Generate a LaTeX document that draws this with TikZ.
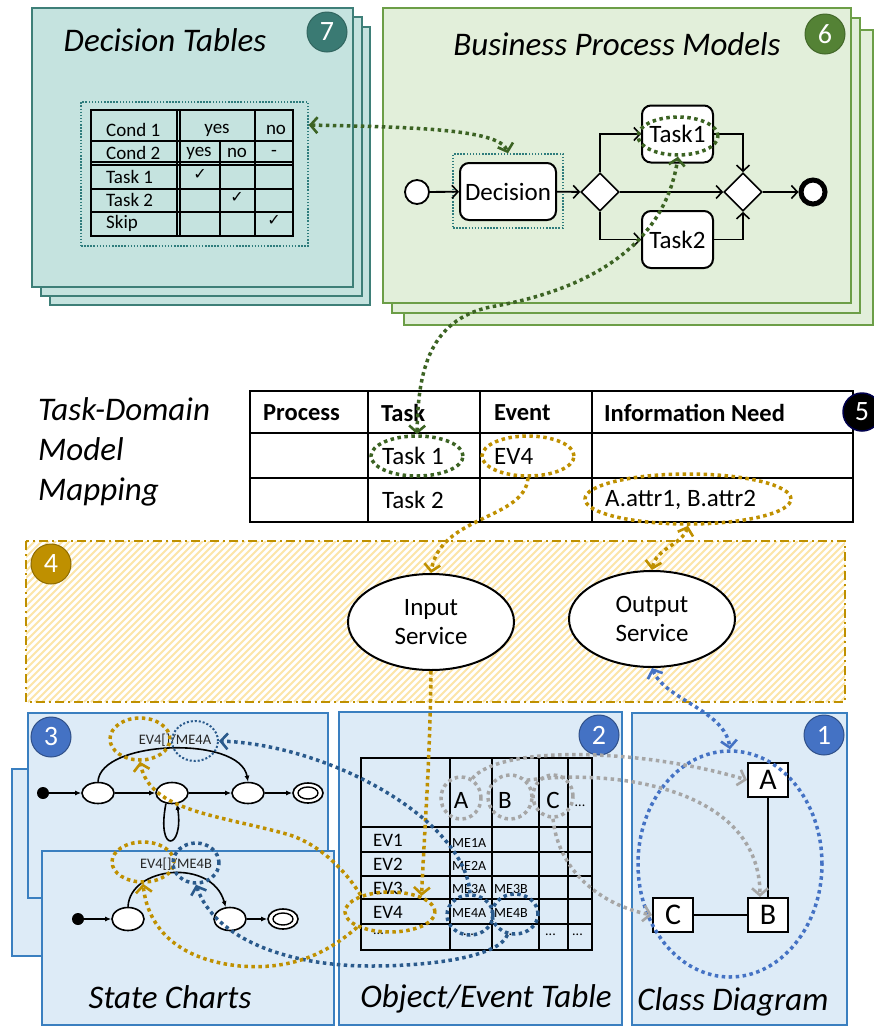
\documentclass[tikz,border=0pt]{standalone}
\usepackage{fontspec}
\setmainfont{Carlito}
\newfontfamily\symfont{DejaVu Sans}
\usetikzlibrary{shapes.geometric,arrows.meta}
\newcommand{\fsz}[1]{\fontsize{#1}{#1}\selectfont}

\definecolor{tealF}{HTML}{C5E3DF}
\definecolor{tealS}{HTML}{3E7F78}
\definecolor{tealB}{HTML}{3A7A73}
\definecolor{tealD}{HTML}{2E7C7C}
\definecolor{greenF}{HTML}{E2EFDA}
\definecolor{greenS}{HTML}{6C9E47}
\definecolor{greenB}{HTML}{548235}
\definecolor{greenL}{HTML}{3C6323}
\definecolor{goldC}{HTML}{BF9000}
\definecolor{hatchC}{HTML}{FCE5A8}
\definecolor{blueF}{HTML}{DDEBF7}
\definecolor{blueS}{HTML}{3A7FC0}
\definecolor{blueB}{HTML}{4472C4}
\definecolor{blueL}{HTML}{4472C4}
\definecolor{navyL}{HTML}{2A5A8C}
\definecolor{grayL}{HTML}{A6A6A6}

\begin{document}
\begin{tikzpicture}[x=1pt,y=-1pt,
  lay7/.style={draw=tealS, fill=tealF, line width=2pt},
  lay6/.style={draw=greenS, fill=greenF, line width=2pt},
  lay3/.style={draw=blueS, fill=blueF, line width=1.6pt},
  badge/.style={circle, minimum size=40pt, inner sep=0pt, text=white, font=\fsz{28}, line width=1pt},
  ttl/.style={font=\fsz{33}\itshape, inner sep=0pt},
  dtx/.style={font=\fsz{19}, inner sep=0pt},
  tbh/.style={font=\fsz{24.5}\bfseries, inner sep=0pt, anchor=west},
  tbx/.style={font=\fsz{25}, inner sep=0pt, anchor=west},
  oex/.style={font=\fsz{19}, inner sep=0pt},
  mex/.style={font=\fsz{14}, inner sep=0pt, anchor=west},
  grid/.style={line width=2pt, line cap=rect},
  bp/.style={line width=1.8pt, -{Straight Barb[length=6pt,width=13pt,line width=1.6pt]}},
  task/.style={draw, fill=white, rounded corners=9pt, line width=2pt, font=\fsz{25}, inner sep=0pt},
  gw/.style={diamond, draw, fill=white, line width=1.6pt, minimum size=38pt, inner sep=0pt},
  lnk/.style={line width=3.5pt, dash pattern=on 3.5pt off 3.5pt,
    >={Straight Barb[length=7pt,width=16pt,line width=2.6pt]}},
  dote/.style={ellipse, draw, inner sep=0pt, line width=3.5pt, dash pattern=on 3.5pt off 3.5pt},
  thindot/.style={draw=tealD, line width=1.5pt, dash pattern=on 1.5pt off 1.6pt},
  st/.style={ellipse, draw, fill=white, line width=1.6pt, minimum width=32pt, minimum height=21pt, inner sep=0pt},
  sa/.style={line width=1.6pt, -{Latex[length=6pt,width=5pt]}},
  cls/.style={draw, fill=white, line width=2pt, minimum width=40pt, minimum height=34pt, inner sep=0pt, font=\fsz{30}},
  lbl/.style={font=\fsz{14.5}, inner sep=0pt, text=black!85}
]
\useasboundingbox (0,0) rectangle (874,1026);

% ---------- 7: decision tables ----------
\draw[lay7] (50,27) rectangle (370,305);
\draw[lay7] (41,17) rectangle (362,296);
\draw[lay7] (32,8) rectangle (353,287);
\node[ttl] (dtT) at (165,40) {Decision Tables};
\node[badge, fill=tealB, draw=tealS!80!black] (b7) at (327,32) {7};
\node[thindot, minimum width=227pt, minimum height=144pt, inner sep=0pt] (dtbox) at (194.5,174) {};
\draw[grid] (91,110) rectangle (293,236);
\draw[grid] (177,110) -- (177,236) (180,110) -- (180,236) (220,141) -- (220,236) (255,110) -- (255,236);
\draw[grid] (91,141) -- (293,141) (91,162) -- (293,162) (91,165) -- (293,165)
  (91,189) -- (293,189) (91,212) -- (293,212);
\node[dtx, anchor=west] (c1) at (106,130) {Cond 1};
\node[dtx, anchor=west] (c2) at (106,153) {Cond 2};
\node[dtx, anchor=west] (c3) at (106,177) {Task 1};
\node[dtx, anchor=west] (c4) at (106,200) {Task 2};
\node[dtx, anchor=west] (c5) at (106,223) {Skip};
\node[dtx] (y1) at (217,130) {yes};
\node[dtx] (n1) at (276,130) {no};
\node[dtx] (y2) at (199,153) {yes};
\node[dtx] (n2) at (237,153) {no};
\node[dtx] (d2) at (274,153) {-};
\node[font=\symfont\fsz{16}, inner sep=0pt] (k1) at (200,174) {✓};
\node[font=\symfont\fsz{16}, inner sep=0pt] (k2) at (237,197) {✓};
\node[font=\symfont\fsz{16}, inner sep=0pt] (k3) at (274,220) {✓};

% ---------- 6: business process models ----------
\draw[lay6] (404,30) rectangle (873,325);
\draw[lay6] (392,18) rectangle (860,313);
\draw[lay6] (383,8) rectangle (851,303);
\node[ttl] (bpT) at (617,44) {Business Process Models};
\node[badge, fill=greenB, draw=greenB!80!black] (b6) at (825,34) {6};
\node[thindot, minimum width=110pt, minimum height=74pt, inner sep=0pt] (decbox) at (508,191) {};
\node[circle, draw, fill=white, line width=1.8pt, minimum size=24pt, inner sep=0pt] (bst) at (417,192) {};
\node[task, minimum width=96pt, minimum height=57pt] (dec) at (508,191.5) {Decision};
\node[gw] (g1) at (600,192) {};
\node[task, minimum width=71pt, minimum height=57pt] (tk1) at (677.5,134) {Task1};
\node[task, minimum width=71pt, minimum height=57pt] (tk2) at (677.5,239.5) {Task2};
\node[gw] (g2) at (743,192) {};
\node[circle, draw, fill=white, line width=5pt, minimum size=24pt, inner sep=0pt] (bend) at (813,192) {};
\draw[bp] (bst) -- (dec);
\draw[bp] (dec) -- (g1);
\draw[bp] (g1.north) |- (tk1.west);
\draw[bp] (g1.south) |- (tk2.west);
\draw[bp] (g1.east) -- (g2.west);
\draw[bp] (tk1.east) -| (g2.north);
\draw[bp] (tk2.east) -| (g2.south);
\draw[bp] (g2.east) -- (bend);
\node[dote, draw=greenL, minimum width=80pt, minimum height=38pt] (t1bpe) at (678,136) {};

% ---------- 5: task-domain model mapping ----------
\node[ttl, anchor=base west] (m1) at (38,420) {Task-Domain};
\node[ttl, anchor=base west] (m2) at (38,460) {Model};
\node[ttl, anchor=base west] (m3) at (38,500) {Mapping};
\draw[grid] (250,391) rectangle (853,522);
\draw[grid] (250,433) -- (853,433) (250,478) -- (853,478)
  (368,391) -- (368,522) (480,391) -- (480,522) (592,391) -- (592,522);
\node[tbh] (h1) at (263,413) {Process};
\node[tbh] (h2) at (381,413) {Task};
\node[tbh] (h3) at (494,413) {Event};
\node[tbh] (h4) at (604,413) {Information Need};
\node[tbx] (r1) at (382,456) {Task 1};
\node[tbx] (r2) at (494,456) {EV4};
\node[tbx] (r3) at (382,500) {Task 2};
\node[tbx] (r4) at (605,500) {A.attr1, B.attr2};
\node[badge, fill=black, draw=blue!30!black, line width=1.5pt, minimum size=38pt] (b5) at (862,412) {5};
\node[dote, draw=greenL, minimum width=92pt, minimum height=40pt] (t1e) at (417,456) {};
\node[dote, draw=goldC, minimum width=92pt, minimum height=40pt] (ev4e) at (528,456) {};
\node[dote, draw=goldC, minimum width=206pt, minimum height=50pt] (attre) at (688,499) {};

% ---------- 4: services ----------
\fill[white] (26,541) rectangle (845,702);
\begin{scope}
  \clip (26,541) rectangle (845,702);
  \foreach \i in {0,...,143} \draw[hatchC, line width=1.8pt] ({-140+\i*7},702) -- ++(161,-161);
\end{scope}
\draw[goldC, line width=2pt, dash pattern=on 9pt off 4pt on 2pt off 4pt] (26,541) rectangle (845,702);
\node[badge, fill=goldC, draw=goldC!75!black] (b4) at (51,564) {4};
\node[ellipse, draw, fill=white, line width=2pt, minimum width=166pt, minimum height=96pt, inner sep=0pt,
  align=center, font=\fsz{25}] (inS) at (431,622) {Input\\[4pt]Service};
\node[ellipse, draw, fill=white, line width=2pt, minimum width=166pt, minimum height=96pt, inner sep=0pt,
  align=center, font=\fsz{25}] (outS) at (652,619) {Output\\[4pt]Service};

% ---------- 3: state charts ----------
\draw[lay3] (12,769) rectangle (300,956);
\draw[lay3] (28,713) rectangle (328,898);
\node[badge, fill=blueB, draw=blueB!70!black] (b3) at (51,737) {3};
\node[circle, fill=black, minimum size=12pt, inner sep=0pt] (ui) at (43,793) {};
\node[st] (u1) at (98,793) {};
\node[st] (u2) at (172,793) {};
\node[st] (u3) at (248,793) {};
\node[st, minimum width=30pt, minimum height=20pt] (uf) at (308,793) {};
\node[ellipse, draw, line width=1.4pt, minimum width=20pt, minimum height=12pt, inner sep=0pt] (ufi) at (308,793) {};
\draw[sa] (ui) -- (u1);
\draw[sa] (u1) -- (u2);
\draw[sa] (u2) -- (u3);
\draw[sa] (u3) -- (uf);
\draw[sa] (u1.north) .. controls (100,740) and (240,735) .. (u3.north);
\draw[sa] (u2.240) .. controls (156,855) and (184,850) .. (u2.295);
\node[lbl] (la) at (175,740) {EV4[]/ME4A};
\node[dote, draw=goldC, minimum width=60pt, minimum height=42pt] (ev4u) at (140,739) {};
\node[dote, draw=navyL, line width=2pt, dash pattern=on 2pt off 2pt, minimum width=46pt, minimum height=40pt] (me4au) at (195,741) {};

\draw[lay3] (42,851) rectangle (334,1025);
\node[circle, fill=black, minimum size=12pt, inner sep=0pt] (li) at (78,919) {};
\node[st, minimum height=23pt] (l1) at (128,919) {};
\node[st, minimum height=23pt] (l2) at (230,919) {};
\node[st, minimum width=30pt, minimum height=20pt] (lf) at (283,919) {};
\node[ellipse, draw, line width=1.4pt, minimum width=20pt, minimum height=12pt, inner sep=0pt] (lfi) at (283,919) {};
\draw[sa] (li) -- (l1);
\draw[sa] (l2) -- (lf);
\draw[sa] (l1.north) .. controls (130,866) and (212,858) .. (l2.110);
\node[lbl] (lb) at (176,864) {EV4[]/ME4B};
\node[dote, draw=goldC, minimum width=62pt, minimum height=40pt] (ev4l) at (143,862) {};
\node[dote, draw=navyL, minimum width=46pt, minimum height=40pt] (me4bl) at (196,863) {};
\node[ttl] (scT) at (170,997) {State Charts};

% ---------- 2: object/event table ----------
\draw[lay3] (339,712) rectangle (622,1025);
\node[badge, fill=blueB, draw=blueB!70!black] (b2) at (599,735) {2};
\draw[grid] (361,758) rectangle (592,950);
\draw[grid] (450,758) -- (450,950) (492,758) -- (492,950) (539,758) -- (539,950) (568,758) -- (568,950);
\draw[grid] (361,827) -- (592,827) (361,852) -- (592,852) (361,876) -- (592,876)
  (361,899) -- (592,899) (361,924) -- (592,924);
\node[font=\fsz{25}, inner sep=0pt] (hA) at (461,800) {A};
\node[font=\fsz{25}, inner sep=0pt] (hB) at (505,800) {B};
\node[font=\fsz{25}, inner sep=0pt] (hC) at (553,800) {C};
\node[font=\fsz{14}, inner sep=0pt] (hD) at (580,806) {...};
\node[oex, anchor=west] (e1) at (373,840) {EV1};
\node[oex, anchor=west] (e2) at (373,864) {EV2};
\node[oex, anchor=west] (e3) at (373,888) {EV3};
\node[oex, anchor=west] (e4) at (373,912) {EV4};
\node[mex] (e5) at (373,934) {...};
\node[mex] (x1) at (452,843) {ME1A};
\node[mex] (x2) at (452,866) {ME2A};
\node[mex] (x3) at (452,889) {ME3A};
\node[mex] (x4) at (494,889) {ME3B};
\node[mex] (x5) at (452,913) {ME4A};
\node[mex] (x6) at (494,913) {ME4B};
\node[mex] (x7) at (463,935) {...};
\node[mex] (x8) at (505,935) {...};
\node[mex] (x9) at (545,935) {...};
\node[mex] (x10) at (572,935) {...};
\node[ttl] (oeT) at (486,999) {Object/Event Table};
\node[dote, draw=grayL, minimum width=40pt, minimum height=42pt] (aC) at (461,798) {};
\node[dote, draw=grayL, minimum width=44pt, minimum height=44pt] (bC) at (510,797) {};
\node[dote, draw=grayL, minimum width=40pt, minimum height=42pt] (cC) at (553,796) {};
\node[dote, draw=goldC, minimum width=90pt, minimum height=40pt] (ev4T) at (390,912) {};
\node[dote, draw=navyL, minimum width=46pt, minimum height=40pt] (me4aT) at (470,915) {};
\node[dote, draw=navyL, minimum width=46pt, minimum height=40pt] (me4bT) at (515,914) {};

% ---------- 1: class diagram ----------
\draw[lay3] (632,713) rectangle (847,1025);
\node[badge, fill=blueB, draw=blueB!70!black] (b1) at (824,735) {1};
\node[cls] (clsA) at (768,780) {A};
\node[cls] (clsB) at (768,915) {B};
\node[cls] (clsC) at (673,915) {C};
\draw[line width=1.8pt] (clsA) -- (clsB);
\draw[line width=1.8pt] (clsC) -- (clsB);
\node[dote, draw=blueL, minimum width=184pt, minimum height=226pt] (clsE) at (730,864) {};
\node[ttl] (cdT) at (733,1002) {Class Diagram};

% ---------- links ----------
\draw[lnk, greenL, <->] ([yshift=49pt]dtbox.east) .. controls (400,127) and (500,128) .. (decbox.north);
\draw[lnk, greenL, <->] (t1e.north) .. controls (418,370) and (430,320) .. (490,307)
  .. controls (590,290) and (665,245) .. (t1bpe.south);
\draw[lnk, goldC, ->] (ev4e.south) .. controls (525,520) and (440,515) .. (inS.north);
\draw[lnk, goldC, <->] (attre.south) .. controls (682,545) and (656,548) .. (outS.north);
\draw[lnk, blueL, <->] (outS.south) .. controls (665,700) and (725,710) .. (clsE.north);
\draw[lnk, goldC, ->] (inS.south) .. controls (430,760) and (425,820) .. (ev4T.27);
\draw[lnk, navyL, ->] (me4aT.north) .. controls (465,820) and (330,745) .. (me4au.east);
\draw[lnk, navyL, ->] (me4bT.250) .. controls (500,955) and (440,966) .. (370,966)
  .. controls (290,966) and (215,940) .. (me4bl.south);
\draw[lnk, goldC, ->] (ev4T.150) .. controls (345,870) and (320,845) .. (290,835)
  .. controls (220,815) and (150,812) .. (ev4u.south);
\draw[lnk, goldC, ->] (ev4T.205) .. controls (325,955) and (290,970) .. (240,966)
  .. controls (180,960) and (148,930) .. (ev4l.south);
\draw[lnk, grayL, ->] (aC.60) .. controls (500,745) and (640,748) .. (clsA.west);
\draw[lnk, grayL, ->] (bC.45) .. controls (620,768) and (760,790) .. ([xshift=-8pt]clsB.north);
\draw[lnk, grayL, ->] (cC.south) .. controls (558,870) and (600,905) .. (clsC.west);
\end{tikzpicture}
\end{document}
